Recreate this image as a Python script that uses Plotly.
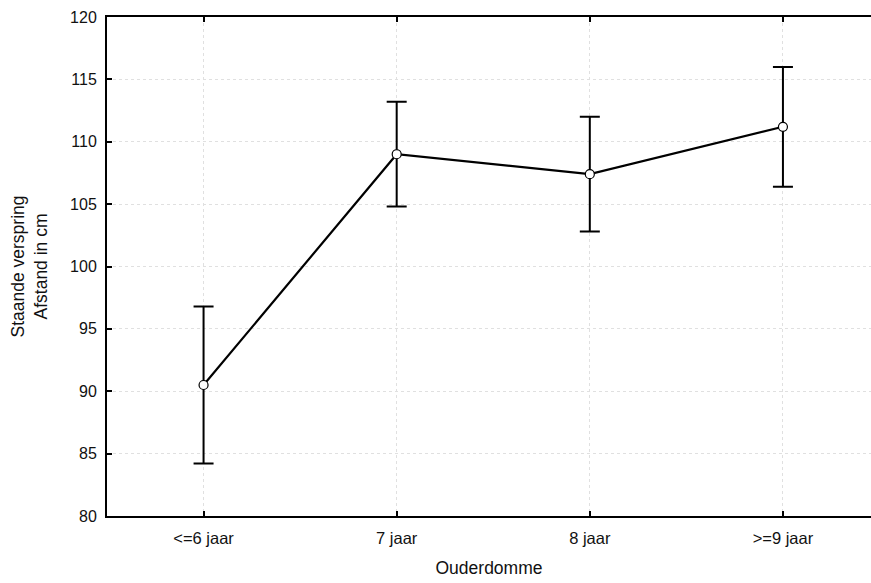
import plotly.graph_objects as go

# Staande verspring per leeftijdsgroep: gemiddelde en foutmarge (cm)
groepen = ["<=6 jaar", "7 jaar", "8 jaar", ">=9 jaar"]
gemiddelde = [90.5, 109.0, 107.4, 111.2]
foutmarge = [6.3, 4.2, 4.6, 4.8]
y_ticks = [80, 85, 90, 95, 100, 105, 110, 115, 120]

x_pos = list(range(len(groepen)))

fig = go.Figure()
fig.add_trace(go.Scatter(
    x=x_pos,
    y=gemiddelde,
    mode="lines+markers",
    line=dict(color="black", width=2.2),
    marker=dict(size=9, color="white", line=dict(color="black", width=1.2)),
    error_y=dict(type="data", array=foutmarge, visible=True,
                 color="black", thickness=2, width=10),
    showlegend=False,
    hoverinfo="skip",
))

font_main = "Liberation Sans, Arial, sans-serif"
grid_kleur = "#e0e0e0"

fig.update_layout(
    width=871, height=583,
    margin=dict(l=107, r=0, t=17, b=67),
    paper_bgcolor="white",
    plot_bgcolor="white",
    font=dict(family=font_main, color="#111"),
    xaxis=dict(
        range=[-0.5, 3.456],
        tickmode="array", tickvals=x_pos, ticktext=groepen,
        ticks="inside", ticklen=5, tickwidth=1.5, tickcolor="black",
        showline=True, linecolor="black", linewidth=2, mirror="ticks",
        showgrid=True, gridcolor=grid_kleur, griddash="dot", gridwidth=1,
        zeroline=False,
        tickfont=dict(family=font_main, size=16.5, color="#111"),
        ticklabelstandoff=6,
        title=dict(text="Ouderdomme", font=dict(family=font_main, size=17.5, color="#111"),
                   standoff=16),
    ),
    yaxis=dict(
        range=[80, 120],
        tickmode="array", tickvals=y_ticks,
        ticks="inside", ticklen=5, tickwidth=1.5, tickcolor="black",
        showline=True, linecolor="black", linewidth=2, mirror=False,
        showgrid=True, gridcolor=grid_kleur, griddash="dot", gridwidth=1,
        zeroline=False,
        tickfont=dict(family=font_main, size=16, color="#111"),
        ticklabelstandoff=5,
        title=dict(text="Staande verspring<br>Afstand in cm",
                   font=dict(family=font_main, size=17.5, color="#111"),
                   standoff=18),
    ),
)

fig.write_html("out.html")
